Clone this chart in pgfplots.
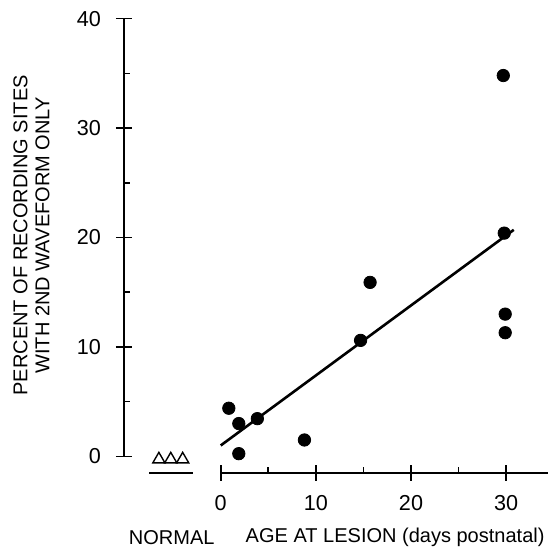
\documentclass[border=0pt]{standalone}
\usepackage{fontspec}
\setmainfont{Liberation Sans}
\usepackage{pgfplots}
\pgfplotsset{compat=1.18}
\begin{document}
\begin{tikzpicture}
\begin{axis}[
  x=4.755pt, y=5.47pt,
  xmin=-10.17, xmax=34.4, ymin=-1.5, ymax=40,
  clip=false,
  axis x line=bottom, axis y line=left,
  axis line style={draw=none},
  xtick={0,10,20,30}, minor xtick={5,15,25},
  ytick={0,10,20,30,40}, minor ytick={5,15,25,35},
  tick align=center,
  major tick length=8pt, minor tick length=3pt,
  every tick/.style={black, line width=0.8pt},
  minor x tick style={yshift=1.5pt},
  minor y tick style={xshift=1.5pt},
  /pgf/number format/assume math mode=true,
  tick label style={font=\fontsize{10.8}{12}\selectfont},
  xticklabel style={yshift=-4pt},
  yticklabel style={xshift=-4pt},
]
\draw[line width=0.9pt] (axis cs:0,-1.5) -- (axis cs:34.4,-1.5);
\draw[line width=0.9pt] (axis cs:-10.17,0) -- (axis cs:-10.17,40);
\draw[line width=0.9pt] (axis cs:-7.5,-1.5) -- (axis cs:-2.9,-1.5);
\addplot[only marks, mark=*, mark size=3.1pt, black] coordinates {
  (0.85,4.4) (1.9,3.0) (3.85,3.45) (1.9,0.25) (8.8,1.5) (14.7,10.6)
  (15.7,15.9) (29.9,13.0) (29.9,11.3) (29.7,34.8) (29.8,20.4)
};
\addplot[only marks, mark=triangle, mark size=3.5pt, black, mark options={line width=0.7pt}] coordinates {
  (-6.5,-0.27) (-5.25,-0.27) (-4.0,-0.27)
};
\addplot[black, line width=1.3pt] coordinates {(0,1.0) (30.8,20.7)};
\node[rotate=90, align=center, font=\fontsize{10}{11}\selectfont] at (axis cs:-19.9,20.2)
  {PERCENT OF RECORDING SITES\\WITH 2ND WAVEFORM ONLY};
\node[font=\fontsize{10}{12}\selectfont] at (axis cs:-5.15,-7.38) {NORMAL};
\node[font=\fontsize{10}{12}\selectfont] at (axis cs:18.33,-7.38) {AGE AT LESION (days postnatal)};
\coordinate (bl) at (axis cs:-23.2,-8.23);
\coordinate (tr) at (axis cs:34.4,41.7);
\end{axis}
\pgfresetboundingbox
\path[use as bounding box] (bl) rectangle (tr);
\end{tikzpicture}
\end{document}
